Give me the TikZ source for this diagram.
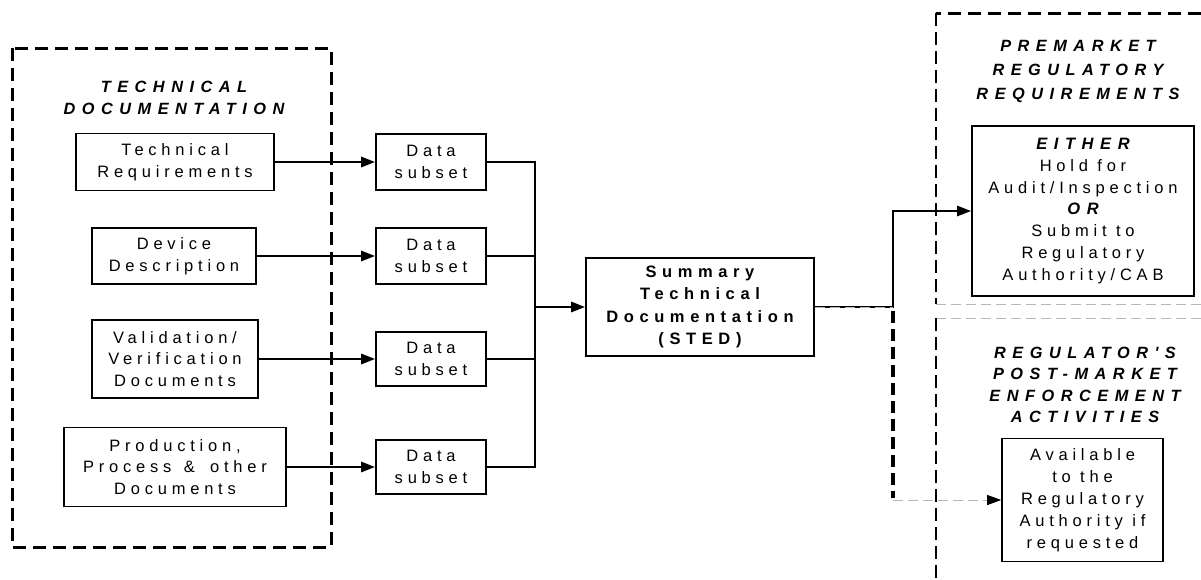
\documentclass[tikz,border=0pt]{standalone}
\usepackage{fontspec}
\setmainfont{Liberation Sans}
\newfontfamily\bodyls{Liberation Sans}[LetterSpace=29]
\newfontfamily\titlels{Liberation Sans}[LetterSpace=40]
\newfontfamily\stedls{Liberation Sans}[LetterSpace=34]
\usetikzlibrary{arrows.meta}
\tikzset{
  box/.style={draw, line width=1.6pt, inner sep=0pt, align=center, fill=white,
    font=\fontsize{16.5}{21.5}\selectfont\bodyls},
  stedbox/.style={box, font=\fontsize{16.5}{22.5}\selectfont\stedls\bfseries},
  titletext/.style={inner sep=0pt, align=center,
    font=\fontsize{16.3}{21.5}\selectfont\titlels\bfseries\itshape},
  tip/.style={-{Triangle[length=14pt,width=10pt,color=black]}},
  feedarrow/.style={tip, line width=2.8pt},
  busline/.style={line width=1.8pt},
  outline/.style={line width=3pt, dash pattern=on 13pt off 7pt},
  sideline/.style={line width=2.2pt, dash pattern=on 13pt off 6pt},
  greydash/.style={draw=black!28, line width=1pt, dash pattern=on 10pt off 5pt},
  downdash/.style={draw=black, line width=3.2pt, dash pattern=on 12pt off 6pt},
}
\begin{document}
\begin{tikzpicture}[x=1pt,y=-1pt]
\fill[white] (0,0) rectangle (1201,579);
\useasboundingbox (0,0) rectangle (1201,579);

% technical documentation region
\draw[outline] (12,48) rectangle (331,547);
\node[titletext] (ttl1) at (174,98) {TECHNICAL\\DOCUMENTATION};

\node[box, minimum width=198pt, minimum height=57pt] (tr) at (175,162) {Technical\\Requirements};
\node[box, minimum width=164pt, minimum height=56pt] (dd) at (174,256) {Device\\Description};
\node[box, minimum width=166pt, minimum height=78pt] (vv) at (175,359) {Validation/\\Verification\\Documents};
\node[box, minimum width=222pt, minimum height=79pt] (pp) at (175,467) {Production,\\Process\hspace{3pt} \&\hspace{6pt} other\\Documents};

% data subsets
\node[box, minimum width=110pt, minimum height=56pt] (ds1) at (431,162) {Data\\subset};
\node[box, minimum width=110pt, minimum height=56pt] (ds2) at (431,256) {Data\\subset};
\node[box, minimum width=110pt, minimum height=54pt] (ds3) at (431,359) {Data\\subset};
\node[box, minimum width=110pt, minimum height=54pt] (ds4) at (431,467) {Data\\subset};

\draw[feedarrow] (tr.east) -- (ds1.west);
\draw[feedarrow] (dd.east) -- (ds2.west);
\draw[feedarrow] (vv.east) -- (ds3.west);
\draw[feedarrow] (pp.east) -- (ds4.west);

% STED
\node[stedbox, minimum width=228pt, minimum height=98pt] (sted) at (700,307) {Summary\\Technical\\Documentation\\(STED)};

\coordinate (bus) at (535,307);
\draw[busline] (ds1.east) -- (ds1.east -| bus) -- (ds4.east -| bus) -- (ds4.east);
\draw[busline] (ds2.east) -- (ds2.east -| bus);
\draw[busline] (ds3.east) -- (ds3.east -| bus);
\draw[feedarrow] (bus) -- (sted.west);

% right regions
\draw[outline] (1201,13) -- (936,13);
\draw[sideline] (936,13) -- (936,304);
\draw[greydash] (936,304) -- (1201,304);
\draw[greydash] (936,318) -- (1201,318);
\draw[sideline] (936,318) -- (936,579);

\node[titletext, font=\fontsize{16.3}{24}\selectfont\titlels\bfseries\itshape] (ttl2) at (1078,71) {PREMARKET\\REGULATORY\\REQUIREMENTS};
\node[titletext] (ttl3) at (1085,385) {REGULATOR'S\\POST-MARKET\\ENFORCEMENT\\ACTIVITIES};

\node[box, minimum width=222pt, minimum height=170pt, font=\fontsize{16.5}{21.8}\selectfont\bodyls] (either) at (1083,211)
  {{\titlels\bfseries\itshape EITHER}\\Hold for\\Audit/Inspection\\{\titlels\bfseries\itshape OR}\\Submit to\\Regulatory\\Authority/CAB};
\node[box, minimum width=161pt, minimum height=123pt, font=\fontsize{16.5}{22}\selectfont\bodyls] (avail) at (1082.5,500)
  {Available\\to the\\Regulatory\\Authority if\\requested};

\coordinate (split) at (893,307);
\coordinate (low) at (893,500);
\coordinate (downtop) at (893,311);
\coordinate (downend) at (893,498);
\draw[tip, line width=2.4pt] (sted.east) -- (split) |- (either.west);
\draw[greydash] (sted.east) -- (split);
\draw[downdash] (downtop) -- (downend);
\draw[greydash, tip] (low) -- (avail.west);
\end{tikzpicture}
\end{document}
